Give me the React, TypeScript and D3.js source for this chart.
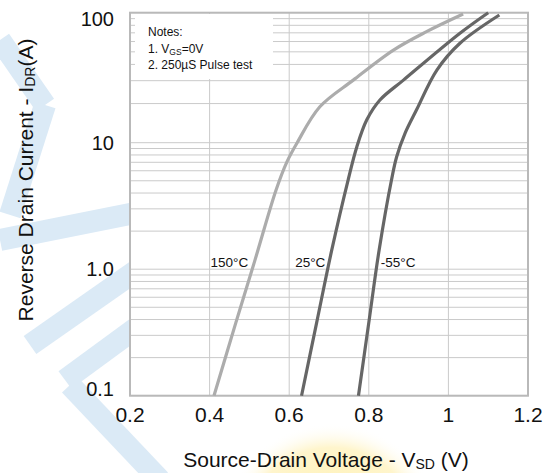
import { useEffect, useRef } from "react";
import * as d3 from "d3";

// curves: VSD (V) vs IDR (A)
const vsd150 = [0.411, 0.466, 0.514, 0.567, 0.594, 0.62, 0.677, 0.761, 0.862, 0.945, 1.037];
const idr150 = [0.1, 0.378, 1.18, 4.23, 7.03, 10, 18.9, 30.3, 51.6, 71.5, 97.7];
const vsd25 = [0.631, 0.669, 0.707, 0.748, 0.77, 0.795, 0.828, 0.887, 1.029, 1.1];
const idr25 = [0.1, 0.378, 1.42, 5.07, 9.3, 15.0, 21.3, 30.3, 69.5, 100];
const vsdM55 = [0.774, 0.8, 0.826, 0.857, 0.87, 0.891, 0.92, 0.971, 1.029, 1.128];
const idrM55 = [0.1, 0.378, 1.42, 5.07, 7.74, 11.8, 17.9, 36.2, 58.2, 96];

const tempLabels = ["150°C", "25°C", "-55°C"];
const labelAtV = [0.4, 0.6, 0.8];

const xTicks = [0.2, 0.4, 0.6, 0.8, 1.0, 1.2];
const xTickLabels = ["0.2", "0.4", "0.6", "0.8", "1", "1.2"];
const yTicks = [0.1, 1, 10, 100];
const yTickLabels = ["0.1", "1.0", "10", "100"];

const FONT = "'Liberation Sans', Arial, sans-serif";

const App = () => {
    const svgRef = useRef<SVGSVGElement | null>(null);

    useEffect(() => {
        const width = 548;
        const height = 473;
        const left = 130, right = 528, top = 12.7, bottom = 395.7;

        const svg = d3.select(svgRef.current).attr("width", width).attr("height", height);
        svg.selectAll("*").remove();

        const x = d3.scaleLinear().domain([0.2, 1.2]).range([left, right]);
        // the upper decade is drawn a little taller in the original
        const y = d3.scaleLog().domain([0.1, 10, 100]).range([bottom, 142.7, top]);

        // faint watermark behind the chart
        const defs = svg.append("defs");
        const grad = defs.append("radialGradient").attr("id", "wm-sun");
        grad.append("stop").attr("offset", "0%").attr("stop-color", "#fff0a8");
        grad.append("stop").attr("offset", "78%").attr("stop-color", "#fff5cc");
        grad.append("stop").attr("offset", "100%").attr("stop-color", "#ffffff").attr("stop-opacity", 0);
        svg.append("circle").attr("cx", 332).attr("cy", 535).attr("r", 112).attr("fill", "url(#wm-sun)");

        const wm = svg.append("g")
            .attr("stroke", "#dbeaf6")
            .attr("stroke-width", 22)
            .attr("fill", "none");
        const bands: [number, number, number, number][] = [
            [0, 40, 45, 105],
            [0, 240, 140, 212],
            [30, 345, 140, 268],
            [65, 380, 140, 325],
            [70, 385, 160, 480],
            [45, 105, 10, 215],
        ];
        bands.forEach(([x1, y1, x2, y2]) => {
            wm.append("line").attr("x1", x1).attr("y1", y1).attr("x2", x2).attr("y2", y2);
        });

        // plot background
        svg.append("rect")
            .attr("x", left).attr("y", top)
            .attr("width", right - left).attr("height", bottom - top)
            .attr("fill", "#fff");

        const grid = svg.append("g").attr("stroke", "#cacaca").attr("stroke-width", 1);

        // horizontal grid (every 1..9 per decade)
        y.ticks().forEach((t) => {
            grid.append("line")
                .attr("x1", left).attr("x2", right)
                .attr("y1", y(t)).attr("y2", y(t));
        });

        // vertical grid
        xTicks.slice(1, -1).forEach((t) => {
            grid.append("line")
                .attr("x1", x(t)).attr("x2", x(t))
                .attr("y1", top).attr("y2", bottom);
        });

        // notes box hides the grid behind it
        svg.append("rect")
            .attr("x", 135).attr("y", 14)
            .attr("width", 138).attr("height", 65)
            .attr("fill", "#fff");

        const notes = svg.append("g").attr("font-family", FONT).attr("font-size", 12).attr("fill", "#111");
        notes.append("text").attr("x", 148).attr("y", 36).text("Notes:");
        const n1 = notes.append("text").attr("x", 148).attr("y", 53);
        n1.append("tspan").text("1. V");
        n1.append("tspan").attr("font-size", 8.5).attr("dy", 2).text("GS");
        n1.append("tspan").attr("dy", -2).text("=0V");
        notes.append("text").attr("x", 148).attr("y", 69).text("2. 250µS Pulse test");

        // frame
        svg.append("rect")
            .attr("x", left).attr("y", top)
            .attr("width", right - left).attr("height", bottom - top)
            .attr("fill", "none")
            .attr("stroke", "#b9b9b9")
            .attr("stroke-width", 2);

        // curves
        const line = d3.line<[number, number]>()
            .x((d) => x(d[0]))
            .y((d) => y(d[1]))
            .curve(d3.curveCatmullRom.alpha(0.5));

        const series = [
            { v: vsd150, i: idr150, color: "#acacac" },
            { v: vsd25, i: idr25, color: "#666666" },
            { v: vsdM55, i: idrM55, color: "#666666" },
        ];
        series.forEach((s) => {
            svg.append("path")
                .datum(s.v.map((v, k) => [v, s.i[k]] as [number, number]))
                .attr("d", line)
                .attr("fill", "none")
                .attr("stroke", s.color)
                .attr("stroke-width", 3.2)
                .attr("stroke-linecap", "butt");
        });

        // curve labels
        const labelOffset = [1, 6, 12];
        svg.append("g")
            .attr("font-family", FONT)
            .attr("font-size", 13.5)
            .attr("fill", "#111")
            .selectAll("text")
            .data(tempLabels)
            .enter()
            .append("text")
            .attr("x", (_d, k) => x(labelAtV[k]) + labelOffset[k])
            .attr("y", y(1) - 2)
            .text((d) => d);

        // x tick labels
        svg.append("g")
            .attr("font-family", FONT)
            .attr("font-size", 21)
            .attr("fill", "#111")
            .attr("text-anchor", "middle")
            .selectAll("text")
            .data(xTicks)
            .enter()
            .append("text")
            .attr("x", (d) => x(d))
            .attr("y", 422)
            .text((_d, k) => xTickLabels[k]);

        // y tick labels
        svg.append("g")
            .attr("font-family", FONT)
            .attr("font-size", 20)
            .attr("fill", "#111")
            .attr("text-anchor", "end")
            .selectAll("text")
            .data(yTicks)
            .enter()
            .append("text")
            .attr("x", 114)
            .attr("y", (d) => Math.min(Math.max(y(d), 19), 389))
            .attr("dy", "0.36em")
            .text((_d, k) => yTickLabels[k]);

        // axis titles
        const xt = svg.append("text")
            .attr("x", 326).attr("y", 467)
            .attr("text-anchor", "middle")
            .attr("font-family", FONT).attr("font-size", 21).attr("fill", "#111");
        xt.append("tspan").text("Source-Drain Voltage - V");
        xt.append("tspan").attr("font-size", 14).attr("dy", 2).text("SD");
        xt.append("tspan").attr("dy", -2).text(" (V)");

        const yt = svg.append("text")
            .attr("transform", "translate(33,180) rotate(-90)")
            .attr("text-anchor", "middle")
            .attr("font-family", FONT).attr("font-size", 21).attr("fill", "#111");
        yt.append("tspan").text("Reverse Drain Current - I");
        yt.append("tspan").attr("font-size", 14).attr("dy", 2).text("DR");
        yt.append("tspan").attr("dy", -2).text("(A)");

        return () => {
            svg.selectAll("*").remove();
        };
    }, []);

    return (
        <svg ref={svgRef} style={{ position: "absolute", left: 0, top: 0 }}></svg>
    );
};

export default App;
